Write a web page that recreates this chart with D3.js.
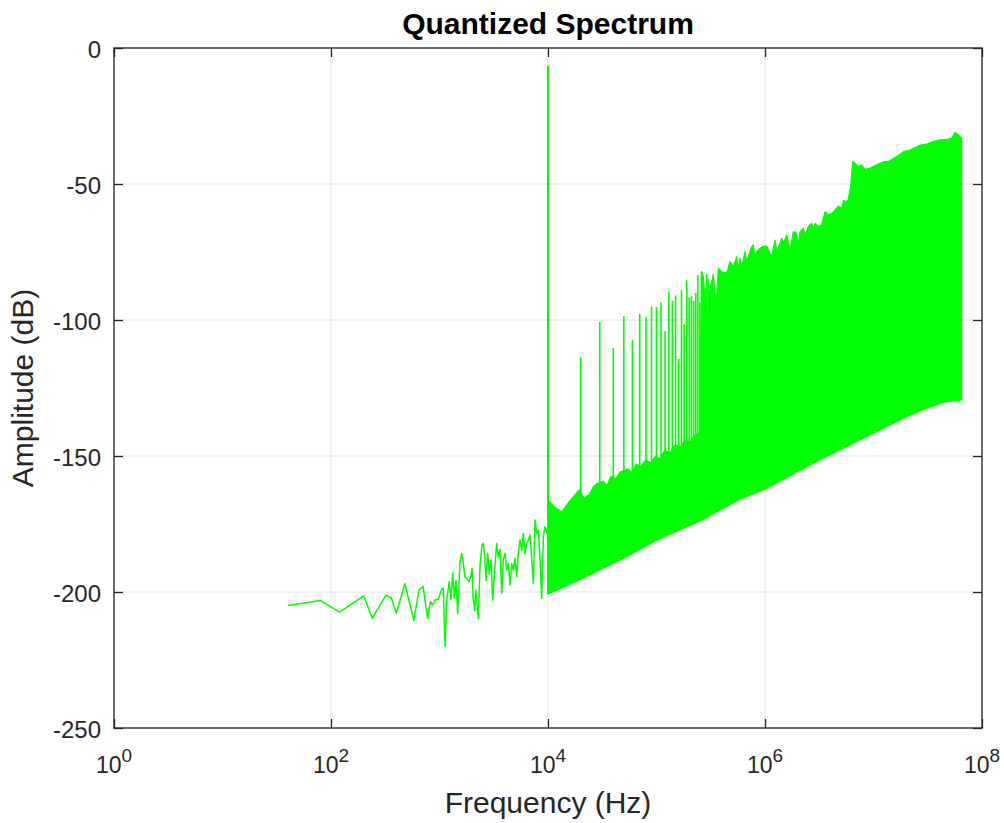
<!DOCTYPE html>
<html>
<head>
<meta charset="utf-8">
<script src="https://cdn.jsdelivr.net/npm/d3@7"></script>
<style>
body{margin:0;background:#fff}
svg{display:block}
text{font-family:"Liberation Sans",Arial,Helvetica,sans-serif}
</style>
</head>
<body>
<svg id="chart" width="1004" height="823"></svg>
<script>
// ---------------- DATA ----------------
const titleText = "Quantized Spectrum";
const xLabelText = "Frequency (Hz)";
const yLabelText = "Amplitude (dB)";
const xDomain = [1, 1e8];
const yDomain = [-250, 0];
const xTickValues = [1, 1e2, 1e4, 1e6, 1e8];
const xTickExponents = ["0", "2", "4", "6", "8"];
const yTickValues = [0, -50, -100, -150, -200, -250];
const yTickLabels = ["0", "-50", "-100", "-150", "-200", "-250"];

// low-frequency part of the spectrum (individual bins)
const lowFreqHz = [40,80,120,200,240,320,360,400,480,580,647,705,778,822,865,909,975,1048,1084,1124,1165,1231,1276,1324,1369,1419,1471,1545,1603,1657,1718,1782,1871,1940,1994,2037,2110,2156,2217,2281,2363,2464,2535,2611,2685,2782,2877,2985,3092,3226,3368,3484,3611,3744,3874,4018,4162,4309,4467,4630,4791,4966,5151,5326,5521,5725,5919,6138,6363,6581,6823,7073,7333,7590,7871,8151,8440,8750,9060,9380,9725,10070];
const lowDb = [-205.0,-203.1,-207.4,-201.4,-209.6,-201.2,-202.2,-207.8,-196.9,-210.4,-199.3,-197.9,-209.8,-203.6,-204.8,-202.9,-202.7,-198.9,-198.6,-220.1,-202.9,-196.2,-202.7,-192.9,-202.3,-195.8,-207.8,-188.9,-185.8,-189.2,-194.6,-195.0,-196.2,-194.4,-191.3,-202.0,-206.9,-199.3,-204.8,-209.8,-190.1,-182.7,-182.1,-187.0,-195.8,-185.8,-193.4,-188.2,-202.9,-191.9,-182.1,-187.2,-184.3,-200.5,-188.2,-185.8,-191.9,-189.5,-197.4,-189.5,-191.9,-187.6,-194.4,-185.2,-180.9,-184.8,-178.4,-185.8,-182.1,-180.9,-179.0,-187.6,-196.8,-173.5,-178.4,-177.2,-188.2,-202.3,-179.7,-176.0,-178.4,-174.7];

// dense noise band: upper edge
const bandTopHz = [10000,11500,13400,14900,17000,19400,21500,24300,26000,28000,32300,35000,38000,42000,46000,54000,60000,65000,72000,79000,88000,98000,108000,119000,132000,148000,165000,183000,205000,226000,250000,
  260800,270200,290000,311300,334100,346100,358600,371500,398700,443500,475900,510800,548100,567800,588300,609400,654200,677700,702100,753800,780900,808800,838000,899300,965100,1036000,1112000,1152000,1236000,1281000,1375000,1424000,1476000,1584000,1700000,1824000,1958000,2029000,2102000,2256000,2338000,2508000,2692000,2789000,2889000,3100000,3329000,3573000,3835000,4116000,4419000,4743000,5090000,5272000,5658000,5861000,6160000,6427000,
  6752000,7248000,7780000,8351000,9285000,9966000,11480000,12320000,13700000,15230000,16350000,18180000,18830000,21700000,25000000,27790000,30900000,35600000,41020000,47250000,52530000,56390000,60500000,64950000];
const bandTopDb = [-166.2,-168.8,-170.6,-168.0,-165.1,-162.5,-165.5,-164.0,-161.5,-160.3,-159.2,-161.0,-157.4,-158.5,-155.9,-154.8,-156.0,-152.9,-154.0,-151.5,-152.5,-150.0,-151.0,-147.8,-149.0,-146.0,-147.0,-144.1,-145.0,-142.3,-141.5,
  -82.2,-84.1,-101.2,-89.0,-83.1,-90.2,-92.6,-81.0,-82.2,-82.8,-78.6,-80.4,-76.7,-81.6,-77.3,-80.4,-74.9,-78.6,-76.7,-73.0,-72.4,-77.9,-74.9,-73.6,-73.0,-72.8,-75.5,-76.7,-70.6,-74.9,-71.8,-70.0,-71.8,-68.8,-74.3,-67.5,-68.1,-73.0,-67.5,-66.3,-68.8,-65.7,-64.4,-66.9,-64.4,-65.7,-65.1,-60.2,-61.4,-60.8,-59.6,-58.1,-59.0,-56.1,-56.5,-55.6,-51.0,-41.8,
  -42.4,-43.6,-43.0,-44.6,-44.2,-43.6,-42.4,-41.8,-41.8,-40.6,-39.9,-38.7,-38.1,-37.5,-36.3,-35.6,-35.3,-34.4,-33.8,-33.6,-33.2,-31.1,-32.0,-33.2];

// dense noise band: lower edge
const bandBottomHz = [10000,11200,20000,30000,50000,100000,252000,589000,1000000,2600000,3800000,9300000,20400000,33000000,47500000,64950000];
const bandBottomDb = [-200.7,-199.9,-195.4,-191.9,-187.6,-181.0,-173.9,-165.9,-162.2,-153.3,-150.0,-142.3,-135.5,-132.0,-130.0,-129.4];

// signal tone and its harmonics
const harmonicHz = [10000,20000,30000,40000,50000,60000,70000,80000,90000,100000,110000,120000,130000,140000,150000,160000,170000,180000,190000,200000,210000,220000,230000,240000,250000,260000,270000,280000,290000,300000];
const harmonicDb = [-6.5,-113.7,-100.7,-110.3,-98.6,-107.3,-97.8,-98.7,-95.0,-95.2,-93.5,-104.0,-89.8,-92.9,-90.9,-114.3,-89.1,-101.5,-85.4,-91.7,-91.2,-93.0,-90.0,-83.5,-93.6,-82.2,-101.1,-88.3,-83.1,-85.0];

// ---------------- CHART ----------------
const L = 114, R = 982, T = 48, B = 728;
const lineColor = "#00ff00";
const axisColor = "#262626";
const gridColor = "#e3e3e3";
const fontFam = '"Liberation Sans", Arial, sans-serif';

const svg = d3.select("#chart");
svg.append("rect").attr("width", 1004).attr("height", 823).attr("fill", "#fff");

const x = d3.scaleLog().domain(xDomain).range([L, R]);
const y = d3.scaleLinear().domain(yDomain).range([B, T]);

// grid
const grid = svg.append("g");
grid.selectAll("line.gx").data(xTickValues).join("line")
  .attr("class", "gx")
  .attr("x1", d => x(d)).attr("x2", d => x(d)).attr("y1", T).attr("y2", B)
  .attr("stroke", gridColor).attr("stroke-width", 1);
grid.selectAll("line.gy").data(yTickValues).join("line")
  .attr("class", "gy")
  .attr("x1", L).attr("x2", R).attr("y1", d => y(d)).attr("y2", d => y(d))
  .attr("stroke", gridColor).attr("stroke-width", 1);

// clip
svg.append("clipPath").attr("id", "clip").append("rect")
  .attr("x", L).attr("y", T).attr("width", R - L).attr("height", B - T);
const plot = svg.append("g").attr("clip-path", "url(#clip)");

const lineGen = d3.line().x(d => x(d.f)).y(d => y(d.db));

// band polygon
const topPts = bandTopHz.map((f, i) => ({f, db: bandTopDb[i]}));
const botPts = bandBottomHz.map((f, i) => ({f, db: bandBottomDb[i]})).reverse();
plot.append("path")
  .attr("d", lineGen(topPts.concat(botPts)) + "Z")
  .attr("fill", lineColor).attr("stroke", lineColor).attr("stroke-width", 1.2)
  .attr("stroke-linejoin", "round");

// low-frequency line
const lowPts = lowFreqHz.map((f, i) => ({f, db: lowDb[i]}));
plot.append("path")
  .attr("d", lineGen(lowPts))
  .attr("fill", "none").attr("stroke", lineColor).attr("stroke-width", 1.5)
  .attr("stroke-linejoin", "round");

// harmonics: vertical lines from lower edge of the noise up to the peak
const floorAt = d3.scaleLinear()
  .domain(bandBottomHz.map(f => Math.log10(f)))
  .range(bandBottomDb);
plot.selectAll("line.h").data(harmonicHz).join("line")
  .attr("class", "h")
  .attr("x1", d => x(d)).attr("x2", d => x(d))
  .attr("y1", (d, i) => y(harmonicDb[i]))
  .attr("y2", d => y(floorAt(Math.log10(d))))
  .attr("stroke", lineColor)
  .attr("stroke-width", (d, i) => i === 0 ? 2 : 1.6);

// axes box
const axes = svg.append("g");
axes.append("rect").attr("x", L).attr("y", T).attr("width", R - L).attr("height", B - T)
  .attr("fill", "none").attr("stroke", axisColor).attr("stroke-width", 1.3);

const tickLen = 9;
const axB = d3.axisBottom(x).tickValues(xTickValues).tickSizeInner(-tickLen).tickSizeOuter(0).tickFormat(() => "");
const axT = d3.axisTop(x).tickValues(xTickValues).tickSizeInner(-tickLen).tickSizeOuter(0).tickFormat(() => "");
const axL = d3.axisLeft(y).tickValues(yTickValues).tickSizeInner(-tickLen).tickSizeOuter(0).tickPadding(13)
  .tickFormat((d, i) => yTickLabels[i]);
const axR = d3.axisRight(y).tickValues(yTickValues).tickSizeInner(-tickLen).tickSizeOuter(0).tickFormat(() => "");

function styleAxis(g) {
  g.select(".domain").remove();
  g.selectAll(".tick line").attr("stroke", axisColor).attr("stroke-width", 1.3);
  g.selectAll(".tick text").attr("fill", axisColor).style("font-size", "24px").style("font-family", fontFam);
}
axes.append("g").attr("transform", `translate(0,${B})`).call(axB).call(styleAxis);
axes.append("g").attr("transform", `translate(0,${T})`).call(axT).call(styleAxis);
axes.append("g").attr("transform", `translate(${L},0)`).call(axL).call(styleAxis)
  .selectAll(".tick text").attr("dy", "0.40em");
axes.append("g").attr("transform", `translate(${R},0)`).call(axR).call(styleAxis);

// x tick labels 10^n
const xl = axes.selectAll("text.xt").data(xTickValues).join("text")
  .attr("class", "xt")
  .attr("x", d => x(d)).attr("y", 773)
  .attr("text-anchor", "middle").attr("fill", axisColor)
  .style("font-size", "23px").style("font-family", fontFam);
xl.append("tspan").text("10");
xl.append("tspan").attr("dy", -11).style("font-size", "19px").text((d, i) => xTickExponents[i]);

// title & labels
svg.append("text").attr("x", (L + R) / 2).attr("y", 34).attr("text-anchor", "middle")
  .attr("fill", "#000").style("font-size", "30px").style("font-weight", "bold").text(titleText);
svg.append("text").attr("x", (L + R) / 2).attr("y", 813).attr("text-anchor", "middle")
  .attr("fill", axisColor).style("font-size", "30px").text(xLabelText);
svg.append("text").attr("transform", `translate(33,${(T + B) / 2}) rotate(-90)`).attr("text-anchor", "middle")
  .attr("fill", axisColor).style("font-size", "30px").text(yLabelText);
</script>
</body>
</html>
